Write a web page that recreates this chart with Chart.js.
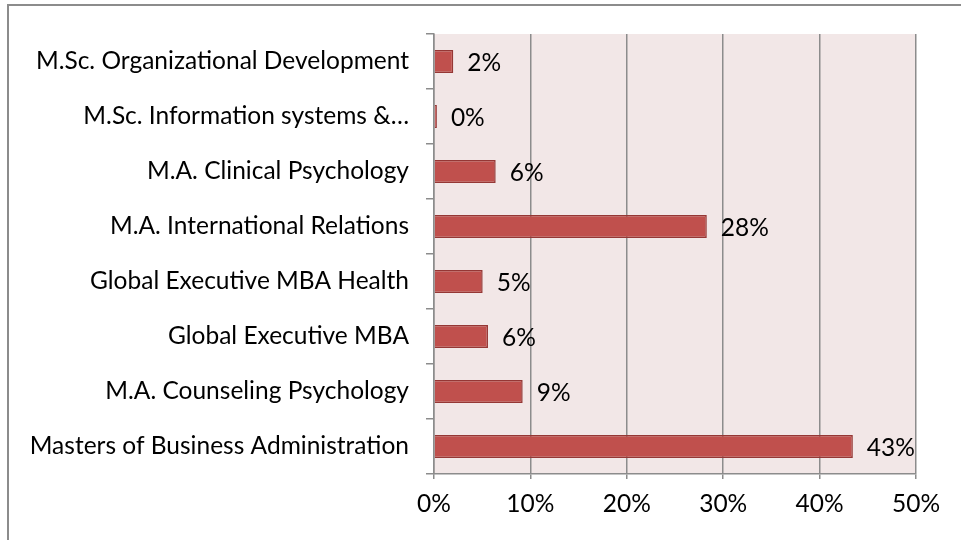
<!DOCTYPE html>
<html>
<head>
<meta charset="utf-8">
<script src="https://cdn.jsdelivr.net/npm/chart.js@4"></script>
<style>
  html, body { margin: 0; padding: 0; background: #fff; }
  #wrap { position: relative; width: 961px; height: 540px; overflow: hidden; }
  #frame { position: absolute; left: 7px; top: 4px; width: 1000px; height: 600px;
           border-left: 2px solid #8c8c8c; border-top: 2px solid #8c8c8c; }
  canvas { position: absolute; left: 0; top: 0; }
</style>
</head>
<body>
<div id="wrap">
  <div id="frame"></div>
  <canvas id="myChart" width="961" height="540"></canvas>
</div>
<script>
const programs = [
  'M.Sc. Organizational Development',
  'M.Sc. Information systems &…',
  'M.A. Clinical Psychology',
  'M.A. International Relations',
  'Global Executive MBA Health',
  'Global Executive MBA',
  'M.A. Counseling Psychology',
  'Masters of Business Administration'
];
const shares = [2.0, 0.3, 6.4, 28.3, 5.05, 5.6, 9.2, 43.45];
const xTicks = [0, 10, 20, 30, 40, 50];

const FONT = 'Lato, "Open Sans", sans-serif';
const FSIZE = 24.5;

// pink plot background
const plotBg = {
  id: 'plotBg',
  beforeDraw(chart) {
    const { ctx, chartArea: a } = chart;
    ctx.save();
    ctx.fillStyle = '#f2e7e7';
    ctx.fillRect(a.left, a.top, a.right - a.left, a.bottom - a.top);
    ctx.restore();
  }
};

// value labels right of each bar
const barLabels = {
  id: 'barLabels',
  afterDatasetsDraw(chart) {
    const { ctx } = chart;
    const meta = chart.getDatasetMeta(0);
    ctx.save();
    ctx.font = FSIZE + 'px ' + FONT;
    ctx.fillStyle = '#000';
    ctx.textAlign = 'left';
    ctx.textBaseline = 'middle';
    meta.data.forEach((bar, i) => {
      ctx.fillText(Math.round(shares[i]) + '%', bar.x + 14, bar.y + 2);
    });
    ctx.restore();
  }
};

const ctx = document.getElementById('myChart').getContext('2d');
const myChart = new Chart(ctx, {
  type: 'bar',
  data: {
    labels: programs,
    datasets: [{
      data: shares,
      backgroundColor: '#c0504d',
      borderColor: '#953735',
      borderWidth: 1.5,
      borderSkipped: 'start',
      barPercentage: 0.42,
      categoryPercentage: 1
    }]
  },
  options: {
    indexAxis: 'y',
    responsive: false,
    animation: false,
    layout: { padding: { left: 0, top: 34, right: 45, bottom: 0 } },
    scales: {
      x: {
        min: 0,
        max: 50,
        afterBuildTicks(axis) { axis.ticks = xTicks.map(v => ({ value: v })); },
        afterFit(axis) { axis.height = 66; },
        grid: { color: '#8c8c8c', lineWidth: 1.5, tickLength: 5 },
        border: { color: '#8c8c8c', width: 1.5 },
        ticks: {
          color: '#000',
          padding: 10,
          font: { family: FONT, size: FSIZE },
          callback: v => v + '%'
        }
      },
      y: {
        afterFit(axis) { axis.width = 434; },
        grid: { drawOnChartArea: false, color: '#8c8c8c', lineWidth: 1.5, tickLength: 8 },
        border: { color: '#8c8c8c', width: 1.5 },
        ticks: {
          color: '#000',
          padding: 17,
          font: { family: FONT, size: FSIZE }
        }
      }
    },
    plugins: {
      legend: { display: false },
      tooltip: { enabled: false }
    }
  },
  plugins: [plotBg, barLabels]
});
</script>
</body>
</html>
